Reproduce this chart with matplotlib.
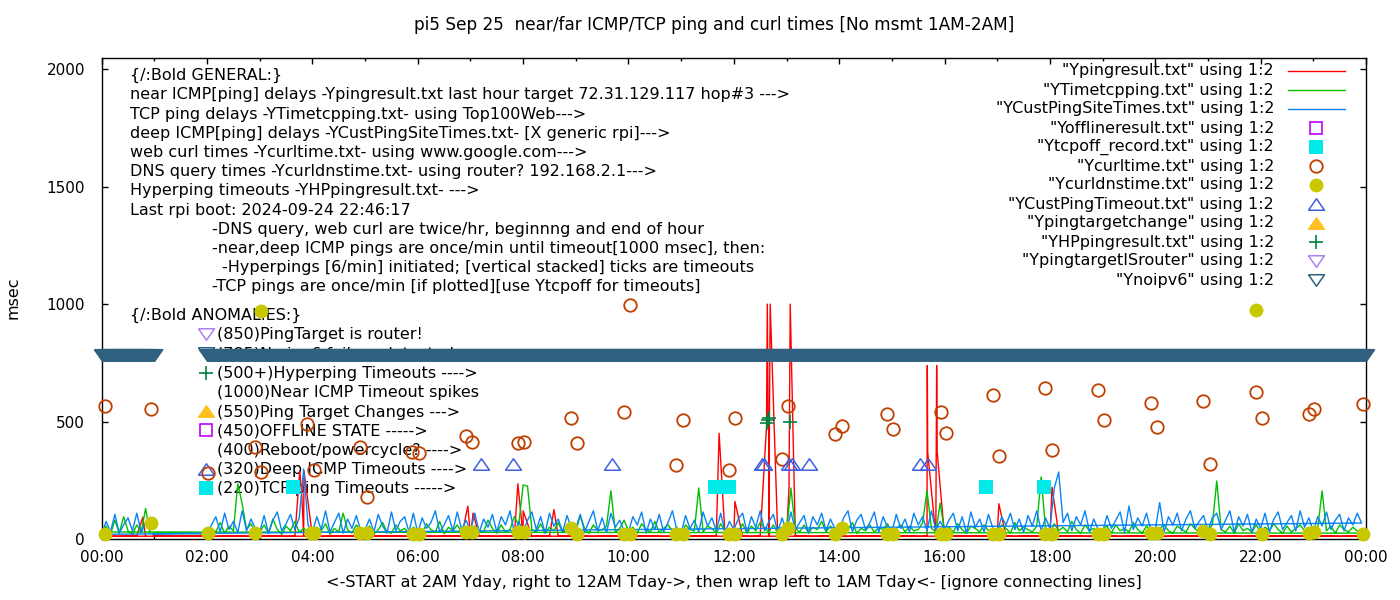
import matplotlib
matplotlib.use('Agg')
import matplotlib.pyplot as plt
from matplotlib.lines import Line2D

plt.rcParams['font.family'] = ['DejaVu Sans']

# ---- data (hours of day, msec) ----
# plot order follows the files: 2AM Yday .. 12AM, then wrap to 00:00 .. 01:00 Tday
hour_order = list(range(2, 24)) + [0]

# near ICMP ping (Ypingresult.txt), 10-min samples
red_ms = {
    2: [12, 11, 13, 12, 12, 11], 3: [12, 13, 12, 11, 12, 13], 4: [12, 11, 12, 13, 12, 12],
    5: [11, 12, 12, 13, 12, 11], 6: [12, 12, 11, 12, 13, 12], 7: [13, 12, 12, 11, 12, 12],
    8: [12, 11, 13, 12, 12, 12], 9: [12, 12, 11, 12, 13, 11], 10: [12, 13, 12, 12, 11, 12],
    11: [11, 12, 12, 13, 12, 12], 12: [12, 12, 11, 12, 13, 12], 13: [13, 12, 12, 11, 12, 12],
    14: [12, 11, 12, 12, 13, 12], 15: [12, 12, 13, 11, 12, 12], 16: [11, 12, 12, 12, 13, 12],
    17: [12, 13, 11, 12, 12, 12], 18: [12, 12, 12, 13, 11, 12], 19: [13, 12, 11, 12, 12, 12],
    20: [12, 11, 12, 12, 13, 12], 21: [12, 12, 13, 12, 11, 12], 22: [11, 12, 12, 13, 12, 12],
    23: [12, 13, 12, 11, 12, 12], 0: [12, 12, 11, 13, 12, 12],
}
red_spike_t = [0.78, 3.76, 3.80, 3.84, 6.95, 7.05, 7.90, 8.00, 8.585, 11.72, 12.02,
               12.62, 12.635, 12.65, 12.66, 12.675, 12.69, 13.047, 13.07,
               15.672, 15.68, 15.85, 15.86, 17.03, 18.04, 18.13]
red_spike_v = [93, 290, 180, 290, 140, 110, 235, 120, 125, 450, 160,
               480, 1000, 510, 520, 490, 1000, 217, 1000,
               738, 370, 738, 370, 150, 220, 80]
red_lead = [(0.98, 12)]

# TCP ping (YTimetcpping.txt), 5-min samples
green_ms = {
    2: [22, 45, 30, 70, 25, 55, 35, 235, 150, 40, 65, 28],
    3: [30, 60, 25, 85, 40, 20, 55, 35, 75, 28, 45, 30],
    4: [25, 50, 35, 65, 20, 45, 30, 110, 40, 25, 60, 35],
    5: [28, 55, 20, 40, 70, 30, 25, 60, 35, 45, 22, 50],
    6: [35, 25, 65, 40, 30, 75, 22, 50, 35, 60, 28, 45],
    7: [25, 55, 35, 30, 80, 45, 25, 60, 30, 40, 95, 60],
    8: [230, 225, 40, 30, 65, 25, 50, 35, 70, 28, 45, 35],
    9: [30, 100, 45, 25, 60, 35, 40, 55, 205, 30, 45, 80],
    10: [35, 50, 25, 65, 40, 30, 75, 28, 45, 60, 35, 50],
    11: [25, 60, 40, 35, 217, 30, 55, 45, 25, 65, 30, 40],
    12: [40, 30, 65, 25, 55, 35, 70, 45, 30, 60, 25, 50],
    13: [35, 217, 45, 30, 60, 25, 50, 40, 75, 30, 55, 35],
    14: [30, 55, 40, 70, 25, 45, 35, 60, 28, 50, 40, 65],
    15: [25, 45, 60, 30, 55, 35, 40, 70, 205, 45, 30, 153],
    16: [35, 50, 30, 65, 40, 25, 55, 45, 30, 60, 35, 40],
    17: [30, 60, 45, 25, 70, 35, 50, 40, 30, 55, 264, 45],
    18: [28, 65, 35, 50, 30, 75, 40, 25, 60, 35, 45, 30],
    19: [40, 55, 25, 60, 35, 45, 30, 70, 40, 25, 55, 35],
    20: [30, 45, 60, 35, 25, 55, 40, 30, 65, 45, 28, 50],
    21: [35, 60, 247, 40, 30, 55, 25, 65, 35, 45, 30, 60],
    22: [28, 50, 35, 65, 40, 25, 55, 30, 45, 60, 35, 40],
    23: [30, 45, 205, 35, 55, 25, 60, 40, 30, 50, 35, 25],
    0: [30, 55, 20, 80, 25, 95, 35, 20, 60, 30, 130, 25],
}
green_lead = [(0.98, 24), (1.49, 24)]

# deep ICMP ping (YCustPingSiteTimes.txt), 5-min samples
blue_ms = {
    2: [24, 60, 95, 30, 110, 40, 75, 28, 120, 35, 85, 45],
    3: [30, 100, 25, 80, 115, 35, 65, 105, 40, 90, 298, 60],
    4: [28, 95, 40, 120, 30, 70, 110, 25, 85, 45, 100, 35],
    5: [40, 85, 30, 105, 55, 25, 115, 35, 75, 95, 30, 110],
    6: [25, 90, 45, 70, 120, 30, 60, 100, 35, 115, 40, 80],
    7: [35, 110, 28, 85, 50, 105, 30, 95, 60, 120, 25, 75],
    8: [30, 80, 115, 40, 95, 25, 110, 55, 85, 30, 100, 45],
    9: [45, 105, 30, 75, 120, 35, 90, 28, 110, 50, 80, 35],
    10: [30, 95, 60, 115, 25, 85, 40, 105, 30, 70, 120, 40],
    11: [25, 100, 45, 80, 30, 115, 55, 90, 35, 110, 28, 75],
    12: [40, 85, 110, 30, 95, 50, 120, 35, 75, 105, 30, 90],
    13: [30, 115, 40, 70, 100, 25, 95, 60, 110, 35, 85, 45],
    14: [35, 90, 120, 30, 80, 105, 40, 70, 115, 28, 95, 50],
    15: [28, 105, 45, 85, 30, 110, 60, 95, 35, 120, 40, 75],
    16: [40, 80, 110, 35, 95, 25, 115, 50, 85, 30, 105, 45],
    17: [30, 95, 60, 110, 40, 85, 28, 100, 55, 120, 35, 90],
    18: [45, 218, 285, 70, 110, 35, 95, 60, 120, 30, 85, 40],
    19: [30, 100, 45, 80, 115, 25, 140, 40, 90, 55, 110, 35],
    20: [40, 155, 30, 95, 60, 110, 35, 85, 120, 45, 75, 100],
    21: [35, 90, 110, 40, 80, 120, 30, 95, 55, 105, 28, 85],
    22: [45, 110, 30, 85, 115, 40, 70, 100, 35, 120, 50, 90],
    23: [30, 95, 55, 115, 40, 80, 105, 35, 90, 60, 110, 68],
    0: [20, 75, 30, 105, 25, 60, 90, 35, 110, 28, 70, 45],
}
blue_lead = [(0.98, 22)]

# web curl times (Ycurltime.txt)
curl_t = [0.06, 0.94, 2.02, 2.91, 3.02, 3.90, 4.03, 4.90, 5.03, 5.89, 6.02, 6.91, 7.03,
          7.90, 8.02, 8.91, 9.02, 9.91, 10.03, 10.90, 11.03, 11.91, 12.02, 12.91, 13.03,
          13.92, 14.05, 14.91, 15.02, 15.93, 16.02, 16.92, 17.03, 17.90, 18.04, 18.91,
          19.02, 19.92, 20.03, 20.90, 21.04, 21.91, 22.02, 22.91, 23.02, 23.94]
curl_v = [567, 554, 281, 392, 286, 490, 294, 392, 179, 371, 367, 439, 414,
          410, 414, 516, 410, 542, 998, 316, 507, 294, 516, 341, 567,
          448, 482, 533, 469, 542, 452, 614, 354, 644, 380, 635,
          507, 580, 478, 588, 320, 627, 516, 533, 554, 576]

# DNS query times (Ycurldnstime.txt)
dns_t = [0.06, 0.94, 2.02, 2.91, 3.02, 3.97, 4.03, 4.90, 5.03, 5.90, 6.02, 6.91, 7.03,
         7.90, 8.02, 8.91, 9.02, 9.91, 10.03, 10.90, 11.03, 11.91, 12.02, 12.91, 13.03,
         13.92, 14.05, 14.91, 15.02, 15.93, 16.02, 16.92, 17.03, 17.90, 18.04, 18.91,
         19.02, 19.92, 20.03, 20.90, 21.04, 21.91, 22.02, 22.91, 23.02, 23.94]
dns_v = [22, 68, 25, 25, 972, 25, 25, 25, 25, 20, 22, 28, 28,
         28, 28, 45, 22, 22, 22, 22, 22, 22, 22, 22, 47,
         22, 47, 22, 22, 22, 22, 22, 22, 22, 22, 22,
         22, 24, 24, 34, 22, 976, 22, 26, 30, 22]

# deep ICMP timeouts (YCustPingTimeout.txt) plotted at 320
cptimeout_t = [7.20, 7.81, 9.69, 12.53, 12.58, 13.05, 13.11, 13.43, 15.53, 15.68]
cptimeout_v = [320] * len(cptimeout_t)

# TCP ping timeouts (Ytcpoff_record.txt) plotted at 220
tcpoff_t = [3.63, 11.65, 11.90, 16.79, 17.89]
tcpoff_v = [220] * len(tcpoff_t)

# hyperping timeouts (YHPpingresult.txt)
hp_t = [12.63, 12.65, 12.67, 13.07]
hp_v = [495, 505, 515, 500]

# no ipv6 (Ynoipv6), once a minute at 785
noipv6_spans = [(0.0, 1.0), (2.0, 24.0)]
noipv6_level = 785

xtick_hours = list(range(0, 25, 2))
xtick_labels = ['%02d:00' % (h % 24) for h in xtick_hours]
ytick_vals = [0, 500, 1000, 1500, 2000]

title = 'pi5 Sep 25  near/far ICMP/TCP ping and curl times [No msmt 1AM-2AM]'
xlabel = '<-START at 2AM Yday, right to 12AM Tday->, then wrap left to 1AM Tday<- [ignore connecting lines]'

general_lines = [
    '{/:Bold GENERAL:}',
    'near ICMP[ping] delays -Ypingresult.txt last hour target 72.31.129.117 hop#3 --->',
    'TCP ping delays -YTimetcpping.txt- using Top100Web--->',
    'deep ICMP[ping] delays -YCustPingSiteTimes.txt- [X generic rpi]--->',
    'web curl times -Ycurltime.txt- using www.google.com--->',
    'DNS query times -Ycurldnstime.txt- using router? 192.168.2.1--->',
    'Hyperping timeouts -YHPpingresult.txt- --->',
    'Last rpi boot: 2024-09-24 22:46:17',
]
note_lines = [
    (212, '-DNS query, web curl are twice/hr, beginnng and end of hour'),
    (212, '-near,deep ICMP pings are once/min until timeout[1000 msec], then:'),
    (222, '-Hyperpings [6/min] initiated; [vertical stacked] ticks are timeouts'),
    (212, '-TCP pings are once/min [if plotted][use Ytcpoff for timeouts]'),
]
anomaly_lines = [
    ('(850)PingTarget is router!', 'isrouter'),
    ('(785)No ipv6 failure detected', 'noipv6'),
    ('(500+)Hyperping Timeouts ---->', 'hp'),
    ('(1000)Near ICMP Timeout spikes', None),
    ('(550)Ping Target Changes --->', 'tchange'),
    ('(450)OFFLINE STATE ----->', 'offline'),
    ('(400)Reboot/powercycle? ---->', None),
    ('(320)Deep ICMP Timeouts ---->', 'cptimeout'),
    ('(220)TCP ping Timeouts ----->', 'tcpoff'),
]

# ---- styles ----
TRI_UP = [(-1, -0.72), (1, -0.72), (0, 0.72), (-1, -0.72)]
TRI_DN = [(-1, 0.72), (1, 0.72), (0, -0.72), (-1, 0.72)]
styles = {
    'red': dict(color='#ff0000', lw=1.0),
    'green': dict(color='#00c000', lw=1.0),
    'blue': dict(color='#0a84f5', lw=1.0),
    'offline': dict(marker='s', ms=9, mfc='none', mec='#c000ff', mew=1.2, ls='none'),
    'tcpoff': dict(marker='s', ms=9.5, mfc='#00eaea', mec='#00eaea', mew=0, ls='none'),
    'curl': dict(marker='o', ms=9, mfc='none', mec='#c04000', mew=1.3, ls='none'),
    'dns': dict(marker='o', ms=10, mfc='#c8c800', mec='#c8c800', mew=0, ls='none'),
    'cptimeout': dict(marker=TRI_UP, ms=11.5, mfc='none', mec='#4060e0', mew=1.1, ls='none'),
    'tchange': dict(marker=TRI_UP, ms=11.5, mfc='#ffc020', mec='#ffc020', mew=1.0, ls='none'),
    'hp': dict(marker='+', ms=10, mec='#008040', mew=1.2, ls='none'),
    'isrouter': dict(marker=TRI_DN, ms=11.5, mfc='none', mec='#b080f0', mew=1.1, ls='none'),
    'noipv6': dict(marker=TRI_DN, ms=11.5, mfc='none', mec='#306080', mew=1.1, ls='none'),
}


def build(per_hour, lead, extra_t=(), extra_v=()):
    pts = []
    for k, h in enumerate(hour_order):
        vals = per_hour[h]
        for i, val in enumerate(vals):
            pts.append((k, h + i / len(vals), val))
    for t, val in zip(extra_t, extra_v):
        k = hour_order.index(int(t))
        pts.append((k, t, val))
    pts.sort()
    t = [p[0] for p in lead] + [p[1] for p in pts]
    v = [p[1] for p in lead] + [p[2] for p in pts]
    return t, v


red_t, red_v = build(red_ms, red_lead, red_spike_t, red_spike_v)
green_t, green_v = build(green_ms, green_lead)
blue_t, blue_v = build(blue_ms, blue_lead)

noipv6_t = []
for a, b in noipv6_spans:
    m = int(round(a * 60))
    while m <= int(round(b * 60)):
        noipv6_t.append(m / 60.0)
        m += 1
noipv6_v = [noipv6_level] * len(noipv6_t)

# ---- figure ----
fig = plt.figure(figsize=(14, 6), dpi=100)
L, R, T, B = 101.7, 1366, 57.5, 539
ax = fig.add_axes([L / 1400, 1 - B / 600, (R - L) / 1400, (B - T) / 600])


def axfrac(px, py):
    return (px - L) / (R - L), (B - py) / (B - T)


ax.plot(red_t, red_v, zorder=3, **styles['red'])
ax.plot(green_t, green_v, zorder=3, **styles['green'])
ax.plot(blue_t, blue_v, zorder=3, **styles['blue'])
ax.plot(tcpoff_t, tcpoff_v, zorder=4, clip_on=False, **styles['tcpoff'])
ax.plot(curl_t, curl_v, zorder=4, clip_on=False, **styles['curl'])
ax.plot(dns_t, dns_v, zorder=4, clip_on=False, **styles['dns'])
ax.plot(cptimeout_t, cptimeout_v, zorder=4, clip_on=False, **styles['cptimeout'])
ax.plot(hp_t, hp_v, zorder=4, clip_on=False, **styles['hp'])
ax.plot(noipv6_t, noipv6_v, zorder=4, clip_on=False, **styles['noipv6'])

ax.set_xlim(0, 24)
ax.set_ylim(0, 2050)
ax.set_xticks(xtick_hours)
ax.set_xticklabels(xtick_labels)
ax.set_xticks(range(1, 24, 2), minor=True)
ax.set_yticks(ytick_vals)
ax.tick_params(direction='in', top=True, right=True, labelsize=11, length=4.5, width=1)
ax.tick_params(axis='y', pad=12)
ax.tick_params(axis='x', pad=8)
ax.tick_params(which='minor', direction='in', top=True, length=2.5, width=1)
for s in ax.spines.values():
    s.set_linewidth(1.0)

fig.text(714 / 1400, 1 - 25 / 600, title, ha='center', va='center', fontsize=12.2)
fig.text((L + R) / 2 / 1400, 1 - 583 / 600, xlabel, ha='center', va='center', fontsize=11.6)
fig.text(13 / 1400, 1 - 298 / 600, 'msec', ha='center', va='center', rotation=90, fontsize=11.5)

# notes block
fs_note = 11.5
for i, line in enumerate(general_lines):
    x, y = axfrac(130, 75.7 + 19.2 * i)
    ax.text(x, y, line, transform=ax.transAxes, ha='left', va='center', fontsize=fs_note, zorder=1)
for j, (px, line) in enumerate(note_lines):
    x, y = axfrac(px, 75.7 + 19.2 * (len(general_lines) + j))
    ax.text(x, y, line, transform=ax.transAxes, ha='left', va='center', fontsize=fs_note, zorder=1)

x, y = axfrac(130, 315.5)
ax.text(x, y, '{/:Bold ANOMALIES:}', transform=ax.transAxes, ha='left', va='center', fontsize=fs_note, zorder=1)
for i, (line, key) in enumerate(anomaly_lines):
    py = 335 + 19.25 * i
    x, y = axfrac(217, py)
    ax.text(x, y, line, transform=ax.transAxes, ha='left', va='center', fontsize=fs_note, zorder=1)
    if key:
        mx, my = axfrac(206, py - 1)
        ax.add_line(Line2D([mx], [my], transform=ax.transAxes, clip_on=False, zorder=1, **styles[key]))

# key (gnuplot style, right aligned text)
key_entries = [
    ('"Ypingresult.txt" using 1:2', 'red'),
    ('"YTimetcpping.txt" using 1:2', 'green'),
    ('"YCustPingSiteTimes.txt" using 1:2', 'blue'),
    ('"Yofflineresult.txt" using 1:2', 'offline'),
    ('"Ytcpoff_record.txt" using 1:2', 'tcpoff'),
    ('"Ycurltime.txt" using 1:2', 'curl'),
    ('"Ycurldnstime.txt" using 1:2', 'dns'),
    ('"YCustPingTimeout.txt" using 1:2', 'cptimeout'),
    ('"Ypingtargetchange" using 1:2', 'tchange'),
    ('"YHPpingresult.txt" using 1:2', 'hp'),
    ('"YpingtargetISrouter" using 1:2', 'isrouter'),
    ('"Ynoipv6" using 1:2', 'noipv6'),
]
for i, (label, key) in enumerate(key_entries):
    py = 71 + 19.0 * i
    tx, ty = axfrac(1274, py)
    ax.text(tx, ty, label, transform=ax.transAxes, ha='right', va='center', fontsize=fs_note, zorder=5)
    if key in ('red', 'green', 'blue'):
        x0, _ = axfrac(1288, py)
        x1, _ = axfrac(1345, py)
        ax.add_line(Line2D([x0, x1], [ty, ty], transform=ax.transAxes, zorder=5, **styles[key]))
    else:
        mx, _ = axfrac(1316, py)
        ax.add_line(Line2D([mx], [ty], transform=ax.transAxes, zorder=5, **styles[key]))

fig.savefig('out.png', dpi=100)
